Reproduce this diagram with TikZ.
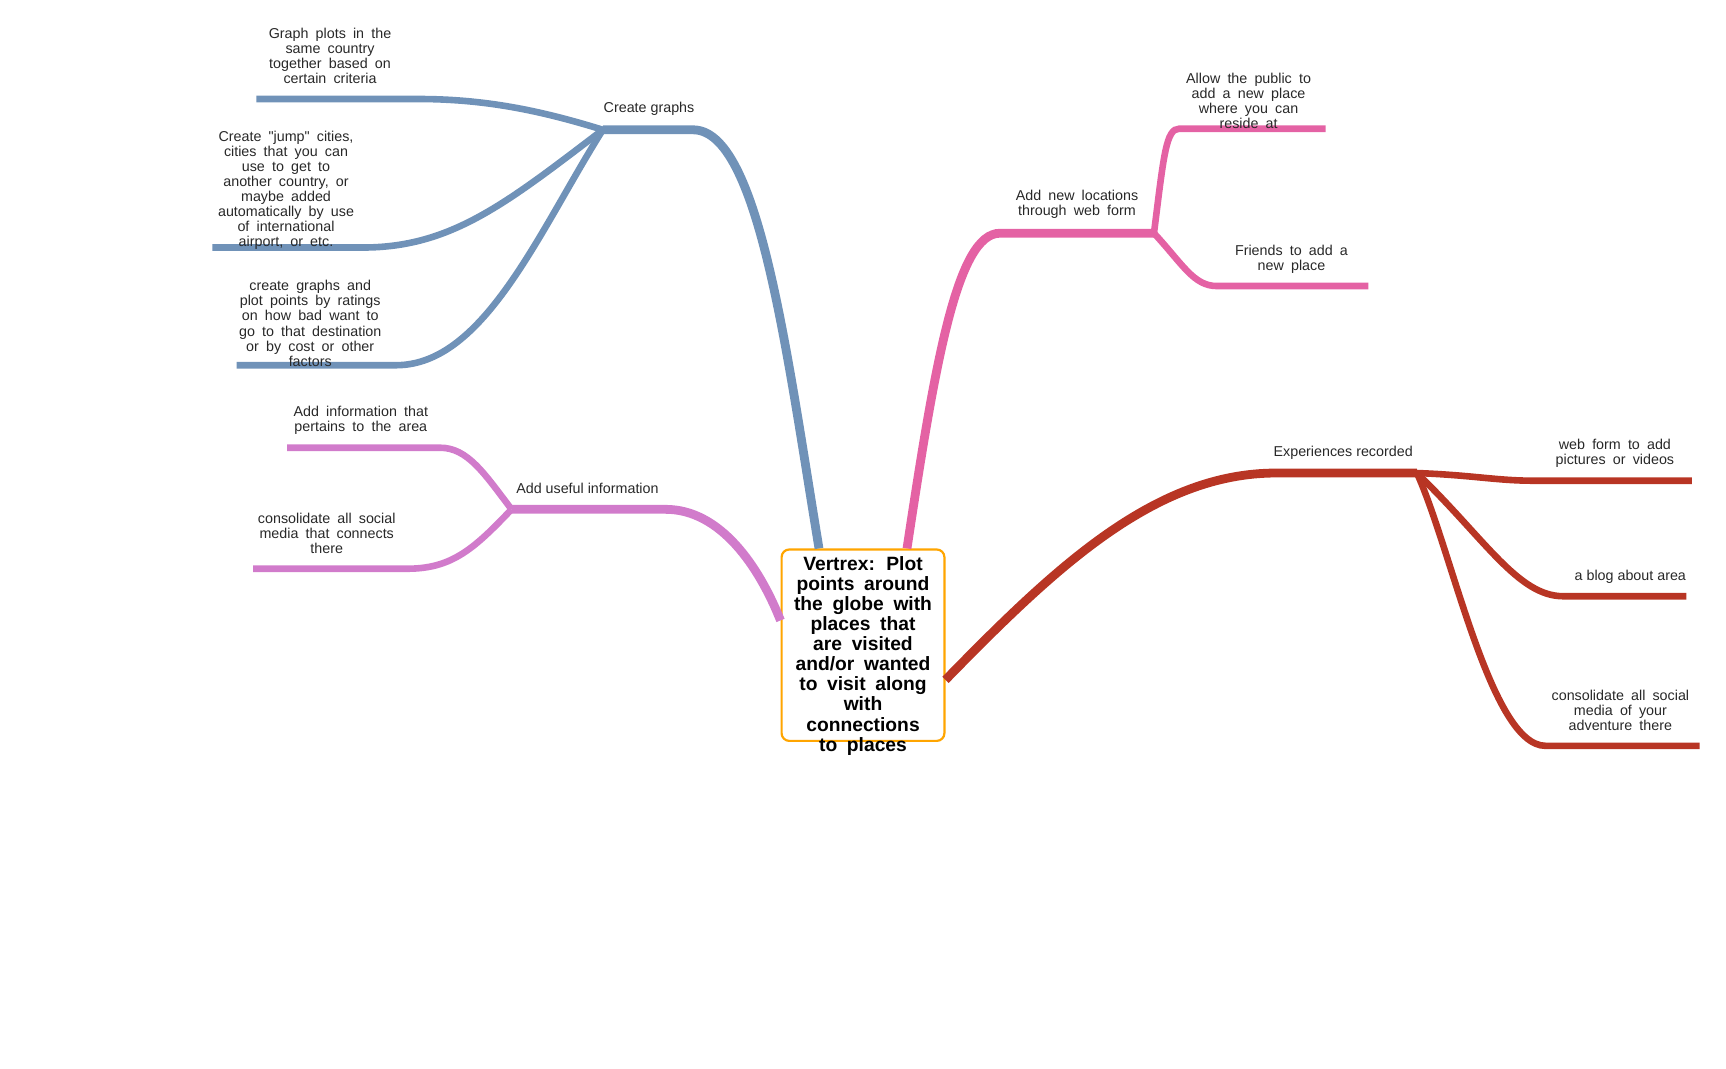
\documentclass[tikz,border=0pt]{standalone}
\usepackage{fontspec}
\setmainfont{Liberation Sans}
\newfontfamily\leaffont[WordSpace=1.8]{Liberation Sans}
\usepackage{tikz}
\definecolor{graphsblue}{RGB}{112,146,184}
\definecolor{locpink}{RGB}{228,98,164}
\definecolor{infoviolet}{RGB}{209,123,203}
\definecolor{expred}{RGB}{184,53,36}
\definecolor{rootorange}{RGB}{255,165,0}
\definecolor{labelgray}{RGB}{40,40,40}
\tikzset{
  % central topic: box and its text
  root node/.style={draw=rootorange,line width=2pt,rounded corners=7pt,fill=white,
    minimum width=148pt,minimum height=174pt,inner sep=0pt},
  root text/.style={align=center,text=black,inner sep=0pt,
    font=\leaffont\bfseries\fontsize{17.5}{18.3}\selectfont},
  % labels on the branches
  topic/.style={align=center,text=labelgray,inner sep=0pt,font=\fontsize{13}{13.7}\selectfont},
  leaf/.style={topic,font=\leaffont\fontsize{13}{13.7}\selectfont},
  % branch lines
  main branch/.style={line width=8pt},
  sub branch/.style={line width=6pt}
}

\begin{document}
\begin{tikzpicture}[x=1pt,y=-1pt]
  \useasboundingbox (0,0) rectangle (1569,971);
  % central topic
  \node (root) [root node] at (784.5,586.5) {};
  \node (root label) [root text] at (784.5,596) {Vertrex: Plot\\points around\\the globe with\\places that\\are visited\\and/or wanted\\to visit along\\with\\connections\\to places};
  % branch points
  \coordinate (cg) at (548,118);
  \coordinate (nl) at (1049,212);
  \coordinate (ui) at (465,463);
  \coordinate (er) at (1288,430);
  % leaf ends
  \coordinate (cg1) at (233,90);
  \coordinate (cg2) at (193,225);
  \coordinate (cg3) at (215,332);
  \coordinate (nl1) at (1205,117);
  \coordinate (nl2) at (1244,260);
  \coordinate (ui1) at (261,407);
  \coordinate (ui2) at (230,517);
  \coordinate (er1) at (1538,437);
  \coordinate (er2) at (1533,542);
  \coordinate (er3) at (1545,678);

  % Create graphs
  \draw[graphsblue,main branch] ([xshift=-40pt]root.north) .. controls (715,320) and (690,118) .. (630,118) -- (cg);
  \draw[graphsblue,sub branch] (cg) .. controls (490,100) and (440,90) .. (380,90) -- (cg1);
  \draw[graphsblue,sub branch] (cg) .. controls (460,185) and (410,225) .. (330,225) -- (cg2);
  \draw[graphsblue,sub branch] (cg) .. controls (490,210) and (440,332) .. (360,332) -- (cg3);
  \node (cg label) [topic] at (590,99) {Create graphs};
  \node (cg1 label) [leaf] at (300,51) {Graph plots in the\\same country\\together based on\\certain criteria};
  \node (cg2 label) [leaf] at (260,173) {Create "jump" cities,\\cities that you can\\use to get to\\another country, or\\maybe added\\automatically by use\\of international\\airport, or etc.};
  \node (cg3 label) [leaf] at (282,294) {create graphs and\\plot points by ratings\\on how bad want to\\go to that destination\\or by cost or other\\factors};

  % Add new locations
  \draw[locpink,main branch] ([xshift=40pt]root.north) .. controls (850,330) and (870,212) .. (909,212) -- (nl);
  \draw[locpink,sub branch] (nl) .. controls (1058,140) and (1060,117) .. (1072,117) -- (nl1);
  \draw[locpink,sub branch] (nl) .. controls (1075,240) and (1085,260) .. (1106,260) -- (nl2);
  \node (nl label) [leaf] at (979,186) {Add new locations\\through web form};
  \node (nl1 label) [leaf] at (1135,92) {Allow the public to\\add a new place\\where you can\\reside at};
  \node (nl2 label) [leaf] at (1174,236) {Friends to add a\\new place};

  % Add useful information
  \draw[infoviolet,main branch] ([yshift=22.5pt]root.west) .. controls (690,515) and (655,463) .. (605,463) -- (ui);
  \draw[infoviolet,sub branch] (ui) .. controls (440,430) and (425,407) .. (400,407) -- (ui1);
  \draw[infoviolet,sub branch] (ui) .. controls (430,500) and (410,517) .. (370,517) -- (ui2);
  \node (ui label) [topic] at (534,444) {Add useful information};
  \node (ui1 label) [leaf] at (328,382) {Add information that\\pertains to the area};
  \node (ui2 label) [leaf] at (297,485) {consolidate all social\\media that connects\\there};

  % Experiences recorded
  \draw[expred,main branch] ([yshift=-31.5pt]root.east) .. controls (960,515) and (1050,430) .. (1160,430) -- (er);
  \draw[expred,sub branch] (er) .. controls (1340,432) and (1360,437) .. (1395,437) -- (er1);
  \draw[expred,sub branch] (er) .. controls (1350,490) and (1380,542) .. (1421,542) -- (er2);
  \draw[expred,sub branch] (er) .. controls (1320,500) and (1355,678) .. (1405,678) -- (er3);
  \node (er label) [topic] at (1221,412) {Experiences recorded};
  \node (er1 label) [leaf] at (1468,412) {web form to add\\pictures or videos};
  \node (er2 label) [topic] at (1482,524) {a blog about area};
  \node (er3 label) [leaf] at (1473,646) {consolidate all social\\media of your\\adventure there};
\end{tikzpicture}
\end{document}
